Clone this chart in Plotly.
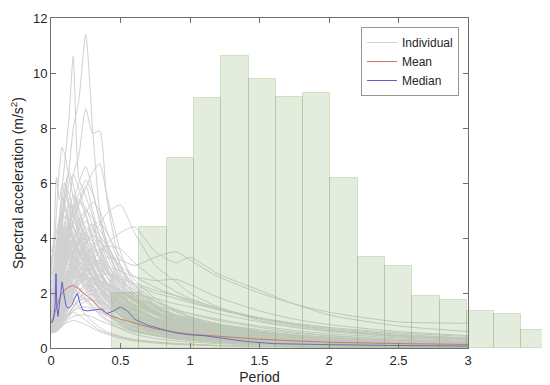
import plotly.graph_objects as go

# ---------------- data ----------------
periods = [0, 0.02, 0.04, 0.06, 0.08, 0.1, 0.13, 0.16, 0.2, 0.25, 0.3, 0.35, 0.4,
           0.5, 0.6, 0.75, 0.9, 1.0, 1.2, 1.5, 1.75, 2.0, 2.5, 3.0]

individual_sa = [
    [1.8, 2.0, 2.6, 3.5, 4.5, 5.5, 6.5, 8.0, 9.0, 11.4, 7.9, 5.0, 3.8, 2.3, 1.6, 1.1, 0.8, 0.65, 0.5, 0.34, 0.26, 0.2, 0.13, 0.09],
    [2.4, 2.6, 3.3, 4.5, 5.8, 6.8, 8.4, 10.6, 6.2, 5.5, 4.8, 3.5, 2.8, 1.9, 1.3, 0.9, 0.7, 0.58, 0.42, 0.3, 0.23, 0.18, 0.12, 0.08],
    [1.5, 1.7, 2.3, 3.0, 3.8, 4.5, 5.4, 6.3, 7.0, 8.7, 7.8, 7.9, 5.5, 3.0, 2.0, 1.3, 0.95, 0.8, 0.6, 0.4, 0.3, 0.24, 0.16, 0.11],
    [3.0, 3.5, 5.0, 6.5, 7.3, 7.0, 6.2, 5.5, 4.8, 3.9, 3.0, 2.4, 2.0, 1.3, 0.9, 0.6, 0.45, 0.38, 0.28, 0.19, 0.14, 0.11, 0.07, 0.05],
    [2.8, 4.0, 6.2, 5.4, 5.9, 6.0, 5.2, 4.8, 4.4, 3.6, 2.8, 2.2, 1.8, 1.2, 0.85, 0.55, 0.4, 0.34, 0.25, 0.17, 0.13, 0.1, 0.07, 0.05],
    [1.3, 1.4, 1.8, 2.3, 2.8, 3.3, 4.0, 4.6, 5.2, 5.8, 6.4, 6.7, 5.6, 3.5, 2.3, 1.5, 1.1, 0.9, 0.65, 0.45, 0.34, 0.27, 0.18, 0.13],
    [1.0, 1.05, 1.2, 1.5, 1.8, 2.1, 2.5, 2.9, 3.3, 3.8, 4.2, 4.5, 4.9, 5.2, 4.2, 3.0, 2.4, 2.0, 1.5, 1.0, 0.75, 0.6, 0.4, 0.3],
    [0.8, 0.85, 0.95, 1.1, 1.3, 1.5, 1.8, 2.1, 2.4, 2.8, 3.2, 3.5, 3.8, 4.2, 4.4, 3.5, 3.1, 3.3, 2.7, 2.1, 1.6, 1.3, 0.95, 0.9],
    [0.7, 0.75, 0.85, 1.0, 1.2, 1.4, 1.7, 2.0, 2.3, 2.6, 2.9, 3.1, 3.3, 3.2, 3.0, 3.3, 3.5, 3.2, 2.6, 2.0, 1.6, 1.2, 0.8, 0.6],
    [1.2, 1.4, 2.0, 2.8, 3.5, 4.2, 4.8, 5.6, 5.0, 4.2, 3.6, 2.8, 2.2, 1.5, 1.0, 0.7, 0.5, 0.42, 0.3, 0.2, 0.15, 0.12, 0.08, 0.06],
    [0.9, 1.0, 1.3, 1.8, 2.4, 3.0, 3.9, 4.6, 5.3, 5.9, 5.0, 4.0, 3.2, 2.1, 1.5, 1.0, 0.75, 0.6, 0.45, 0.3, 0.22, 0.17, 0.11, 0.08],
    [2.0, 2.3, 3.2, 4.2, 4.8, 5.1, 4.5, 4.0, 3.4, 2.8, 2.2, 1.8, 1.5, 1.0, 0.7, 0.5, 0.36, 0.3, 0.22, 0.15, 0.11, 0.09, 0.06, 0.04],
    [0.7, 0.75, 0.9, 1.2, 1.5, 1.9, 2.4, 2.9, 3.4, 3.8, 4.1, 3.9, 3.5, 2.6, 1.9, 1.3, 1.0, 0.85, 0.65, 0.45, 0.35, 0.28, 0.18, 0.13],
    [1.6, 1.8, 2.4, 3.3, 4.0, 4.4, 4.0, 3.6, 3.0, 2.6, 2.1, 1.7, 1.4, 0.9, 0.65, 0.45, 0.33, 0.28, 0.2, 0.13, 0.1, 0.08, 0.05, 0.04],
    [0.6, 0.62, 0.7, 0.85, 1.0, 1.2, 1.5, 1.9, 2.3, 2.7, 3.0, 3.2, 3.0, 2.5, 2.0, 1.5, 1.15, 1.0, 0.8, 0.58, 0.45, 0.36, 0.25, 0.18],
    [1.1, 1.2, 1.6, 2.2, 2.8, 3.3, 3.7, 3.9, 3.6, 3.1, 2.6, 2.1, 1.7, 1.2, 0.85, 0.6, 0.45, 0.38, 0.28, 0.19, 0.14, 0.11, 0.07, 0.05],
    [0.8, 0.85, 1.0, 1.3, 1.6, 2.0, 2.6, 3.1, 3.5, 3.3, 2.9, 2.4, 2.0, 1.5, 1.1, 0.8, 0.6, 0.5, 0.38, 0.26, 0.2, 0.16, 0.1, 0.07],
    [3.5, 3.8, 4.3, 4.6, 4.2, 3.8, 3.2, 2.7, 2.2, 1.8, 1.5, 1.2, 1.0, 0.7, 0.5, 0.35, 0.26, 0.22, 0.16, 0.11, 0.08, 0.06, 0.04, 0.03],
    [0.6, 0.65, 0.8, 1.0, 1.3, 1.6, 2.0, 2.3, 2.6, 2.8, 2.7, 2.5, 2.3, 1.9, 1.6, 1.3, 1.0, 0.9, 0.72, 0.55, 0.44, 0.36, 0.26, 0.2],
    [1.4, 1.5, 1.9, 2.5, 3.0, 3.2, 3.0, 2.7, 2.5, 2.2, 1.9, 1.6, 1.35, 1.0, 0.75, 0.55, 0.42, 0.36, 0.27, 0.19, 0.15, 0.12, 0.08, 0.06],
    [0.7, 0.72, 0.8, 1.0, 1.2, 1.5, 1.8, 2.1, 2.4, 2.5, 2.3, 2.0, 1.8, 1.4, 1.1, 0.85, 0.66, 0.56, 0.43, 0.3, 0.23, 0.18, 0.12, 0.09],
    [1.0, 1.1, 1.4, 1.9, 2.3, 2.6, 2.5, 2.2, 2.0, 1.7, 1.45, 1.25, 1.05, 0.8, 0.6, 0.45, 0.35, 0.3, 0.22, 0.15, 0.12, 0.09, 0.06, 0.04],
    [0.55, 0.57, 0.62, 0.75, 0.9, 1.1, 1.3, 1.5, 1.8, 2.0, 2.1, 2.0, 1.9, 1.6, 1.35, 1.1, 0.9, 0.8, 0.65, 0.5, 0.4, 0.33, 0.24, 0.18],
    [2.2, 2.5, 3.0, 3.6, 3.9, 3.7, 3.3, 2.9, 2.5, 2.1, 1.7, 1.4, 1.2, 0.85, 0.62, 0.45, 0.34, 0.29, 0.21, 0.14, 0.11, 0.08, 0.05, 0.04],
    [0.9, 0.95, 1.1, 1.4, 1.8, 2.2, 2.9, 3.6, 4.3, 4.6, 4.4, 3.8, 3.0, 2.0, 1.4, 0.95, 0.7, 0.58, 0.42, 0.28, 0.21, 0.16, 0.1, 0.07],
    [0.6, 0.62, 0.7, 0.82, 0.95, 1.1, 1.3, 1.5, 1.7, 1.8, 1.75, 1.6, 1.45, 1.2, 1.0, 0.78, 0.6, 0.52, 0.4, 0.28, 0.22, 0.18, 0.12, 0.09],
    [0.75, 0.8, 0.95, 1.2, 1.45, 1.7, 1.9, 2.0, 1.9, 1.75, 1.55, 1.35, 1.2, 0.95, 0.75, 0.55, 0.42, 0.36, 0.27, 0.19, 0.15, 0.12, 0.08, 0.06],
    [1.3, 1.4, 1.8, 2.4, 3.0, 3.6, 4.2, 4.6, 4.2, 3.5, 2.8, 2.3, 1.9, 1.35, 1.0, 0.7, 0.52, 0.44, 0.32, 0.21, 0.16, 0.12, 0.08, 0.06],
    [0.65, 0.68, 0.78, 0.95, 1.15, 1.4, 1.8, 2.2, 2.7, 3.0, 3.1, 3.0, 2.8, 2.4, 2.1, 1.7, 1.4, 1.25, 1.0, 0.75, 0.58, 0.46, 0.32, 0.24],
    [1.8, 2.0, 2.6, 3.3, 3.8, 4.0, 3.6, 3.3, 2.8, 2.4, 2.0, 1.7, 1.5, 1.2, 0.95, 0.72, 0.56, 0.48, 0.37, 0.26, 0.2, 0.16, 0.11, 0.08],
    [0.58, 0.6, 0.66, 0.78, 0.92, 1.05, 1.2, 1.35, 1.45, 1.5, 1.42, 1.3, 1.18, 0.95, 0.78, 0.6, 0.47, 0.4, 0.3, 0.21, 0.16, 0.13, 0.09, 0.06],
    [0.8, 0.85, 1.0, 1.25, 1.55, 1.85, 2.3, 2.6, 2.9, 3.1, 3.4, 3.6, 3.5, 3.0, 2.6, 2.2, 1.9, 1.7, 1.4, 1.05, 0.82, 0.65, 0.45, 0.33],
    [0.62, 0.64, 0.72, 0.85, 1.0, 1.2, 1.5, 1.8, 2.1, 2.3, 2.2, 2.1, 1.95, 1.75, 1.55, 1.3, 1.1, 0.98, 0.8, 0.6, 0.47, 0.38, 0.27, 0.2],
    [2.9, 3.2, 3.9, 4.8, 5.5, 5.2, 4.6, 3.8, 3.1, 2.5, 2.0, 1.6, 1.3, 0.9, 0.65, 0.46, 0.35, 0.3, 0.22, 0.15, 0.11, 0.09, 0.06, 0.04],
    [1.05, 1.15, 1.5, 2.0, 2.6, 3.2, 3.9, 4.3, 3.9, 3.4, 3.1, 2.9, 2.6, 2.1, 1.7, 1.3, 1.0, 0.88, 0.68, 0.48, 0.37, 0.3, 0.2, 0.15],
    [0.7, 0.72, 0.8, 0.95, 1.1, 1.3, 1.55, 1.8, 2.0, 2.2, 2.4, 2.6, 2.7, 2.6, 2.3, 2.0, 1.8, 1.65, 1.4, 1.1, 0.9, 0.75, 0.55, 0.42],
    [0.57, 0.58, 0.62, 0.7, 0.8, 0.92, 1.05, 1.15, 1.2, 1.2, 1.12, 1.0, 0.9, 0.72, 0.58, 0.45, 0.35, 0.3, 0.23, 0.16, 0.12, 0.1, 0.07, 0.05],
    [0.9, 1.0, 1.3, 1.7, 2.1, 2.5, 3.0, 3.4, 3.8, 4.0, 3.7, 3.3, 2.9, 2.2, 1.7, 1.25, 0.95, 0.82, 0.62, 0.43, 0.33, 0.26, 0.17, 0.12],
    [1.2, 1.3, 1.6, 2.0, 2.4, 2.7, 2.9, 3.0, 2.8, 2.5, 2.2, 1.95, 1.75, 1.45, 1.2, 0.95, 0.78, 0.68, 0.54, 0.4, 0.31, 0.25, 0.17, 0.12],
    [0.55, 0.56, 0.6, 0.68, 0.78, 0.88, 0.95, 1.0, 0.95, 0.85, 0.72, 0.6, 0.5, 0.35, 0.26, 0.18, 0.13, 0.11, 0.08, 0.06, 0.04, 0.03, 0.02, 0.02],
    [0.6, 0.62, 0.7, 0.85, 1.0, 1.15, 1.25, 1.3, 1.2, 1.0, 0.82, 0.65, 0.55, 0.4, 0.3, 0.22, 0.17, 0.14, 0.1, 0.07, 0.05, 0.04, 0.03, 0.02],
    [0.8, 0.85, 1.0, 1.3, 1.6, 1.8, 1.9, 1.75, 1.5, 1.2, 0.95, 0.75, 0.6, 0.42, 0.3, 0.21, 0.15, 0.13, 0.09, 0.06, 0.05, 0.04, 0.03, 0.02],
    [1.5, 1.7, 2.4, 3.4, 4.4, 5.2, 6.0, 6.3, 5.8, 4.9, 4.0, 3.2, 2.6, 1.8, 1.3, 0.9, 0.66, 0.55, 0.4, 0.27, 0.2, 0.16, 0.1, 0.07],
    [1.9, 2.2, 3.0, 4.0, 4.6, 5.8, 6.4, 5.9, 5.1, 4.3, 3.5, 2.9, 2.4, 1.7, 1.25, 0.88, 0.66, 0.56, 0.42, 0.29, 0.22, 0.17, 0.11, 0.08],
    [1.1, 1.2, 1.5, 2.0, 2.6, 3.3, 4.2, 5.0, 5.6, 6.1, 5.6, 4.7, 3.9, 2.7, 1.9, 1.3, 0.98, 0.82, 0.6, 0.41, 0.31, 0.24, 0.16, 0.11],
    [2.5, 2.8, 3.6, 4.5, 5.0, 4.7, 5.3, 4.9, 4.1, 3.4, 2.8, 2.3, 1.9, 1.35, 1.0, 0.7, 0.52, 0.45, 0.33, 0.22, 0.17, 0.13, 0.09, 0.06],
    [0.95, 1.05, 1.35, 1.8, 2.3, 2.8, 3.4, 3.9, 4.4, 4.9, 5.3, 5.0, 4.3, 3.0, 2.2, 1.55, 1.15, 0.98, 0.74, 0.52, 0.4, 0.32, 0.21, 0.15],
    [1.7, 1.9, 2.5, 3.2, 3.9, 4.5, 5.0, 5.2, 4.6, 3.8, 3.0, 2.5, 2.1, 1.6, 1.25, 0.95, 0.75, 0.66, 0.5, 0.36, 0.28, 0.22, 0.15, 0.11],
    [1.25, 1.35, 1.7, 2.3, 2.9, 3.5, 4.1, 4.4, 4.0, 3.5, 3.2, 2.7, 2.3, 1.7, 1.3, 0.95, 0.72, 0.62, 0.47, 0.33, 0.25, 0.2, 0.13, 0.09],
    [0.85, 0.9, 1.1, 1.5, 1.9, 2.4, 3.0, 3.5, 3.9, 4.2, 4.5, 4.3, 3.8, 2.9, 2.3, 1.7, 1.3, 1.12, 0.85, 0.6, 0.46, 0.37, 0.25, 0.18],
    [2.1, 2.3, 2.9, 3.5, 3.3, 3.6, 3.4, 3.1, 2.7, 2.3, 1.95, 1.65, 1.4, 1.05, 0.8, 0.6, 0.47, 0.41, 0.31, 0.22, 0.17, 0.13, 0.09, 0.06],
    [0.68, 0.7, 0.8, 1.0, 1.25, 1.55, 2.0, 2.5, 3.0, 3.4, 3.6, 3.3, 2.9, 2.2, 1.75, 1.35, 1.05, 0.92, 0.72, 0.53, 0.42, 0.34, 0.24, 0.18],
    [1.35, 1.45, 1.8, 2.4, 3.1, 3.7, 4.5, 5.1, 5.4, 4.8, 3.9, 3.2, 2.6, 1.9, 1.45, 1.05, 0.8, 0.7, 0.53, 0.37, 0.29, 0.23, 0.15, 0.11],
    [0.78, 0.82, 0.98, 1.25, 1.6, 2.0, 2.5, 2.8, 3.1, 3.0, 2.8, 2.6, 2.4, 2.0, 1.7, 1.4, 1.15, 1.02, 0.82, 0.6, 0.48, 0.39, 0.27, 0.2],
    [1.0, 1.1, 1.4, 1.9, 2.5, 3.0, 3.4, 3.3, 3.0, 2.7, 2.4, 2.1, 1.85, 1.5, 1.22, 0.95, 0.75, 0.66, 0.52, 0.38, 0.3, 0.24, 0.17, 0.12],
    [0.65, 0.67, 0.75, 0.92, 1.12, 1.35, 1.7, 2.1, 2.5, 2.9, 3.2, 3.5, 3.7, 3.6, 3.1, 2.5, 2.05, 1.8, 1.45, 1.08, 0.85, 0.68, 0.47, 0.35],
    [2.7, 3.0, 3.7, 4.4, 4.9, 5.0, 4.6, 4.1, 3.6, 3.0, 2.5, 2.1, 1.8, 1.3, 0.98, 0.72, 0.55, 0.47, 0.35, 0.24, 0.18, 0.14, 0.09, 0.07],
    [0.72, 0.75, 0.86, 1.05, 1.3, 1.6, 2.1, 2.6, 3.2, 3.7, 3.3, 2.8, 2.4, 1.8, 1.4, 1.05, 0.8, 0.7, 0.53, 0.37, 0.29, 0.23, 0.15, 0.11],
    [1.15, 1.25, 1.6, 2.1, 2.7, 3.1, 3.5, 3.8, 3.4, 2.9, 2.5, 2.2, 1.95, 1.6, 1.35, 1.1, 0.9, 0.8, 0.64, 0.47, 0.37, 0.3, 0.21, 0.16],
    [0.6, 0.62, 0.68, 0.8, 0.95, 1.15, 1.45, 1.75, 2.05, 2.3, 2.5, 2.4, 2.2, 1.8, 1.45, 1.1, 0.85, 0.74, 0.56, 0.39, 0.3, 0.24, 0.16, 0.12],
    [1.45, 1.6, 2.1, 2.8, 3.4, 3.9, 4.1, 3.7, 3.2, 2.7, 2.3, 1.9, 1.6, 1.15, 0.85, 0.6, 0.45, 0.39, 0.29, 0.2, 0.15, 0.12, 0.08, 0.06],
    [0.88, 0.92, 1.1, 1.4, 1.75, 2.1, 2.5, 2.8, 3.0, 2.7, 2.45, 2.3, 2.15, 1.85, 1.55, 1.25, 1.02, 0.9, 0.7, 0.5, 0.39, 0.31, 0.21, 0.15],
    [0.58, 0.59, 0.64, 0.74, 0.86, 1.0, 1.2, 1.45, 1.7, 1.9, 1.95, 1.85, 1.7, 1.4, 1.15, 0.88, 0.68, 0.6, 0.46, 0.33, 0.26, 0.21, 0.14, 0.1],
    [3.2, 3.6, 4.2, 4.3, 4.0, 4.4, 3.9, 3.3, 2.7, 2.2, 1.8, 1.5, 1.25, 0.9, 0.67, 0.48, 0.36, 0.31, 0.23, 0.16, 0.12, 0.09, 0.06, 0.04],
    [0.75, 0.78, 0.9, 1.1, 1.35, 1.6, 1.95, 2.3, 2.6, 2.9, 3.1, 2.9, 2.6, 2.1, 1.8, 1.55, 1.35, 1.25, 1.05, 0.8, 0.64, 0.52, 0.37, 0.28],
    [1.05, 1.1, 1.35, 1.75, 2.2, 2.7, 3.3, 3.9, 4.6, 5.0, 4.7, 4.1, 3.4, 2.4, 1.75, 1.2, 0.9, 0.76, 0.56, 0.38, 0.29, 0.23, 0.15, 0.1],
    [1.6, 1.9, 2.8, 3.9, 4.9, 5.6, 5.1, 4.5, 3.8, 3.2, 2.6, 2.1, 1.75, 1.25, 0.92, 0.65, 0.49, 0.42, 0.31, 0.21, 0.16, 0.13, 0.08, 0.06],
    [0.95, 1.05, 1.4, 2.0, 2.7, 3.4, 4.3, 5.2, 6.0, 6.6, 5.7, 4.6, 3.7, 2.5, 1.8, 1.25, 0.94, 0.8, 0.6, 0.41, 0.31, 0.25, 0.16, 0.12],
    [1.2, 1.3, 1.7, 2.3, 3.0, 3.6, 4.4, 4.9, 4.6, 4.1, 3.9, 3.6, 3.1, 2.3, 1.7, 1.2, 0.9, 0.77, 0.58, 0.4, 0.31, 0.25, 0.17, 0.12],
    [2.3, 2.6, 3.4, 4.4, 5.3, 6.0, 5.6, 5.0, 4.3, 3.6, 2.9, 2.4, 2.0, 1.4, 1.02, 0.72, 0.54, 0.46, 0.34, 0.23, 0.17, 0.14, 0.09, 0.06],
    [0.7, 0.74, 0.88, 1.15, 1.5, 1.9, 2.5, 3.1, 3.7, 4.1, 4.4, 4.6, 4.2, 3.3, 2.5, 1.8, 1.35, 1.15, 0.88, 0.62, 0.48, 0.39, 0.26, 0.19],
    [1.4, 1.6, 2.2, 3.0, 3.7, 4.2, 4.7, 4.4, 3.9, 3.3, 2.8, 2.4, 2.1, 1.6, 1.2, 0.88, 0.67, 0.58, 0.44, 0.31, 0.24, 0.19, 0.13, 0.09],
    [0.85, 0.9, 1.1, 1.45, 1.85, 2.3, 2.9, 3.4, 3.6, 3.4, 3.0, 2.7, 2.4, 1.9, 1.5, 1.1, 0.85, 0.73, 0.56, 0.4, 0.31, 0.25, 0.17, 0.12],
    [1.9, 2.1, 2.7, 3.5, 4.1, 4.6, 4.3, 3.9, 3.5, 3.3, 2.9, 2.5, 2.1, 1.55, 1.15, 0.82, 0.62, 0.53, 0.4, 0.28, 0.21, 0.17, 0.11, 0.08],
    [0.62, 0.64, 0.72, 0.88, 1.1, 1.35, 1.75, 2.2, 2.8, 3.3, 3.7, 3.9, 3.6, 2.8, 2.1, 1.5, 1.12, 0.96, 0.72, 0.5, 0.38, 0.31, 0.21, 0.15],
    [1.1, 1.2, 1.55, 2.1, 2.7, 3.2, 3.7, 4.0, 3.8, 3.3, 2.9, 2.5, 2.2, 1.7, 1.35, 1.0, 0.78, 0.68, 0.52, 0.37, 0.29, 0.23, 0.16, 0.11],
    [2.6, 2.9, 3.5, 4.0, 4.4, 4.1, 3.7, 3.4, 3.0, 2.6, 2.2, 1.85, 1.6, 1.2, 0.9, 0.65, 0.5, 0.43, 0.32, 0.22, 0.17, 0.13, 0.09, 0.06],
    [0.75, 0.78, 0.92, 1.18, 1.5, 1.85, 2.3, 2.7, 3.0, 3.2, 3.3, 3.1, 2.8, 2.3, 1.9, 1.5, 1.2, 1.05, 0.82, 0.58, 0.45, 0.36, 0.24, 0.18],
    [1.3, 1.45, 1.9, 2.6, 3.2, 3.8, 4.4, 4.9, 5.3, 5.1, 4.4, 3.6, 2.9, 2.0, 1.45, 1.0, 0.75, 0.64, 0.48, 0.33, 0.25, 0.2, 0.13, 0.09],
    [0.9, 0.95, 1.15, 1.5, 1.9, 2.3, 2.7, 2.9, 2.8, 2.6, 2.4, 2.2, 2.0, 1.65, 1.35, 1.05, 0.82, 0.72, 0.56, 0.4, 0.31, 0.25, 0.17, 0.12],
    [1.7, 1.85, 2.4, 3.1, 3.7, 4.1, 4.5, 4.8, 4.5, 4.0, 3.4, 2.8, 2.3, 1.6, 1.15, 0.8, 0.6, 0.52, 0.39, 0.27, 0.2, 0.16, 0.1, 0.07],
    [0.68, 0.7, 0.8, 1.0, 1.25, 1.5, 1.85, 2.2, 2.5, 2.7, 2.6, 2.45, 2.3, 2.0, 1.7, 1.35, 1.1, 0.96, 0.76, 0.56, 0.44, 0.36, 0.25, 0.19],
    [1.0, 1.1, 1.45, 2.0, 2.6, 3.1, 3.6, 3.8, 3.5, 3.0, 2.6, 2.2, 1.9, 1.4, 1.05, 0.76, 0.58, 0.5, 0.38, 0.27, 0.2, 0.16, 0.11, 0.08],
    [0.8, 0.84, 1.0, 1.3, 1.7, 2.1, 2.7, 3.3, 3.9, 4.4, 4.1, 3.6, 3.1, 2.4, 1.85, 1.35, 1.02, 0.88, 0.66, 0.46, 0.36, 0.28, 0.19, 0.14],
    [2.0, 2.2, 2.8, 3.5, 3.9, 3.6, 3.2, 2.9, 2.6, 2.3, 2.0, 1.75, 1.55, 1.2, 0.95, 0.72, 0.56, 0.49, 0.37, 0.26, 0.2, 0.16, 0.11, 0.08],
    [0.6, 0.61, 0.66, 0.77, 0.9, 1.05, 1.25, 1.5, 1.8, 2.1, 2.3, 2.4, 2.35, 2.1, 1.8, 1.45, 1.15, 1.0, 0.78, 0.56, 0.44, 0.35, 0.24, 0.18],
    [1.15, 1.25, 1.6, 2.2, 2.9, 3.5, 4.0, 4.2, 3.9, 3.5, 3.3, 3.0, 2.6, 1.95, 1.45, 1.05, 0.8, 0.7, 0.53, 0.37, 0.29, 0.23, 0.15, 0.11],
    [1.5, 1.65, 2.1, 2.7, 3.3, 3.5, 3.3, 3.0, 2.7, 2.4, 2.1, 1.8, 1.55, 1.15, 0.88, 0.64, 0.49, 0.42, 0.32, 0.22, 0.17, 0.13, 0.09, 0.06],
    [0.7, 0.73, 0.85, 1.08, 1.35, 1.7, 2.2, 2.7, 3.3, 3.9, 4.3, 4.1, 3.7, 2.9, 2.2, 1.6, 1.2, 1.04, 0.78, 0.55, 0.43, 0.34, 0.23, 0.17],
    [0.95, 1.0, 1.25, 1.65, 2.1, 2.5, 3.0, 3.3, 3.4, 3.2, 2.9, 2.6, 2.35, 1.9, 1.55, 1.2, 0.94, 0.82, 0.63, 0.45, 0.35, 0.28, 0.19, 0.14],
    [1.25, 1.4, 1.85, 2.5, 3.2, 3.9, 4.6, 5.0, 4.7, 4.0, 3.3, 2.7, 2.2, 1.55, 1.12, 0.8, 0.6, 0.52, 0.39, 0.27, 0.2, 0.16, 0.1, 0.07],
    [0.65, 0.67, 0.76, 0.93, 1.15, 1.4, 1.75, 2.1, 2.4, 2.55, 2.5, 2.3, 2.1, 1.7, 1.38, 1.05, 0.8, 0.7, 0.53, 0.37, 0.29, 0.23, 0.15, 0.11],
    [1.8, 2.0, 2.5, 3.1, 3.6, 4.0, 4.3, 4.1, 3.6, 3.0, 2.5, 2.15, 1.9, 1.5, 1.2, 0.92, 0.72, 0.63, 0.49, 0.35, 0.27, 0.22, 0.15, 0.11],
    [0.78, 0.8, 0.95, 1.2, 1.5, 1.8, 2.2, 2.5, 2.75, 2.9, 2.8, 2.6, 2.4, 2.05, 1.75, 1.45, 1.2, 1.08, 0.88, 0.67, 0.54, 0.44, 0.31, 0.23],
    [1.05, 1.15, 1.5, 2.0, 2.5, 2.9, 3.3, 3.6, 3.9, 4.1, 3.8, 3.3, 2.8, 2.0, 1.5, 1.08, 0.82, 0.7, 0.53, 0.37, 0.29, 0.23, 0.15, 0.11],
    [0.56, 0.57, 0.61, 0.7, 0.82, 0.96, 1.15, 1.35, 1.55, 1.7, 1.75, 1.7, 1.6, 1.38, 1.18, 0.95, 0.77, 0.68, 0.53, 0.38, 0.3, 0.24, 0.16, 0.12],
    [0.65, 0.68, 0.78, 0.95, 1.15, 1.4, 1.75, 2.1, 2.5, 2.8, 3.0, 2.9, 2.7, 2.5, 2.35, 2.1, 1.9, 1.75, 1.45, 1.1, 0.88, 0.72, 0.5, 0.37],
    [0.72, 0.75, 0.87, 1.08, 1.35, 1.65, 2.05, 2.45, 2.8, 3.05, 3.2, 3.1, 2.95, 2.8, 2.6, 2.45, 2.5, 2.3, 1.85, 1.35, 1.05, 0.85, 0.6, 0.45],
    [0.6, 0.62, 0.7, 0.85, 1.05, 1.3, 1.6, 1.95, 2.3, 2.5, 2.55, 2.45, 2.3, 2.1, 1.95, 1.8, 1.6, 1.5, 1.25, 0.95, 0.76, 0.62, 0.43, 0.32],
]

mean_periods = [0, 0.01, 0.02, 0.04, 0.06, 0.08, 0.1, 0.13, 0.16, 0.2, 0.25, 0.3, 0.365,
                0.44, 0.5, 0.6, 0.65, 0.75, 0.9, 1.0, 1.2, 1.5, 1.75, 2.0, 2.5, 3.0]
mean_sa = [0.92, 1.0, 1.15, 1.5, 1.8, 2.0, 2.12, 2.22, 2.28, 2.15, 1.95, 1.72, 1.37,
           1.15, 1.05, 0.9, 0.83, 0.7, 0.57, 0.5, 0.43, 0.32, 0.26, 0.21, 0.16, 0.13]

median_periods = [0, 0.01, 0.02, 0.03, 0.036, 0.042, 0.05, 0.065, 0.08, 0.095, 0.11, 0.13,
                  0.15, 0.17, 0.19, 0.21, 0.23, 0.26, 0.3, 0.34, 0.37, 0.4, 0.45, 0.5, 0.55,
                  0.6, 0.7, 0.8, 0.9, 1.0, 1.1, 1.2, 1.4, 1.6, 1.8, 2.0, 2.5, 3.0]
median_sa = [0.9, 0.95, 1.1, 1.6, 2.7, 1.5, 1.15, 1.8, 2.4, 1.9, 1.5, 1.45,
             1.55, 1.8, 1.98, 1.6, 1.38, 1.35, 1.38, 1.4, 1.42, 1.25, 1.35, 1.49, 1.35,
             1.05, 0.82, 0.68, 0.55, 0.48, 0.45, 0.38, 0.24, 0.16, 0.13, 0.12, 0.09, 0.07]

hist_edges = [0.439, 0.635, 0.835, 1.032, 1.226, 1.422, 1.619, 1.815, 2.01,
              2.206, 2.403, 2.599, 2.796, 2.993, 3.187, 3.384, 3.582]
hist_heights = [2.0, 4.41, 6.9, 9.1, 10.63, 9.78, 9.13, 9.29, 6.2,
                3.31, 2.97, 1.90, 1.73, 1.33, 1.23, 0.65]

x_ticks = [0, 0.5, 1, 1.5, 2, 2.5, 3]
x_ticklabels = ["0", "0.5", "1", "1.5", "2", "2.5", "3"]
y_ticks = [0, 2, 4, 6, 8, 10, 12]

# ---------------- figure ----------------
FONT = "Liberation Sans, Arial, Helvetica, sans-serif"
TXT = "rgb(38,38,38)"
AX = "rgb(110,110,110)"

fig = go.Figure()

for i, sa in enumerate(individual_sa):
    fig.add_trace(go.Scatter(
        x=periods, y=sa, mode="lines",
        line=dict(color="rgb(208,208,208)", width=1, shape="spline", smoothing=0.6),
        name="Individual", legendgroup="ind", showlegend=(i == 0),
        hoverinfo="skip"))

fig.add_trace(go.Scatter(
    x=mean_periods, y=mean_sa, mode="lines",
    line=dict(color="rgb(214,110,110)", width=1),
    name="Mean", legendgroup="mean"))
fig.add_trace(go.Scatter(
    x=median_periods, y=median_sa, mode="lines",
    line=dict(color="rgb(95,95,210)", width=1),
    name="Median", legendgroup="median"))

centers = [(a + b) / 2 for a, b in zip(hist_edges[:-1], hist_edges[1:])]
widths = [b - a for a, b in zip(hist_edges[:-1], hist_edges[1:])]
fig.add_trace(go.Bar(
    x=centers, y=hist_heights, width=widths,
    marker=dict(color="rgba(130,170,100,0.22)",
                line=dict(color="rgba(120,170,90,0.27)", width=1)),
    xaxis="x2", yaxis="y2", showlegend=False, hoverinfo="skip"))

# The page body adds an 8 px offset; the figure is sized so it ends at the window edge.
main_frac = 417 / 498
fig.update_layout(
    width=542, height=377,
    margin=dict(l=43, r=1, t=10, b=37),
    paper_bgcolor="white", plot_bgcolor="rgba(0,0,0,0)",
    font=dict(family=FONT, size=13, color=TXT),
    showlegend=True,
    legend=dict(x=(361 - 51) / 498, y=1 - (27 - 18) / 330, xanchor="left", yanchor="top",
                bgcolor="white", bordercolor="rgb(150,150,150)", borderwidth=1,
                font=dict(size=12, color=TXT), itemwidth=30,
                tracegroupgap=0),
    xaxis=dict(domain=[0, main_frac], range=[0, 3], anchor="y", automargin=False,
               tickvals=x_ticks, ticktext=x_ticklabels,
               ticks="inside", ticklen=5, tickcolor=AX,
               showline=True, linecolor=AX, linewidth=1, mirror="ticks",
               showgrid=False, zeroline=False,
               tickfont=dict(size=13, color=TXT),
               title=dict(text="Period", font=dict(size=14, color=TXT), standoff=10)),
    yaxis=dict(domain=[0, 1], range=[0, 12], anchor="x", automargin=False,
               tickvals=y_ticks,
               ticks="inside", ticklen=5, tickcolor=AX,
               showline=True, linecolor=AX, linewidth=1, mirror="ticks",
               showgrid=False, zeroline=False,
               tickfont=dict(size=13, color=TXT),
               title=dict(text="Spectral acceleration (m/s<sup>2</sup>)",
                          font=dict(size=14, color=TXT), standoff=6)),
    xaxis2=dict(domain=[0, 1], range=[0, 3 / main_frac], anchor="y2", visible=False),
    yaxis2=dict(domain=[0, 1], range=[0, 12], anchor="x2", visible=False),
    bargap=0,
)

fig.write_html("out.html")
